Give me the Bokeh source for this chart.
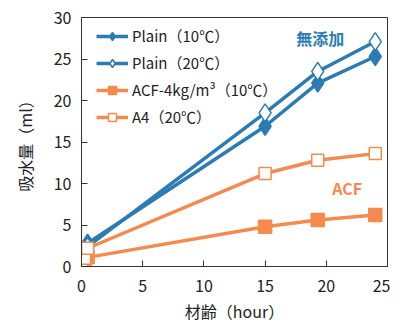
from bokeh.plotting import figure
from bokeh.models import Legend, LegendItem, Label, FixedTicker
from bokeh.embed import file_html
from bokeh.resources import INLINE

x_age = [0, 0.25, 0.5, 15, 19.3, 24]
plain_10 = [0.0, 1.0, 2.8, 16.9, 22.1, 25.3]
plain_20 = [0.0, 1.3, 2.4, 18.5, 23.5, 27.1]
acf_10 = [0.0, 0.5, 1.1, 4.8, 5.6, 6.2]
a4_20 = [0.0, 1.0, 2.2, 11.2, 12.8, 13.6]

labels = ["Plain（10℃）", "Plain（20℃）", "ACF-4kg/m³（10℃）", "A4（20℃）"]
x_ticks = [0, 5, 10, 15, 20, 25]
y_ticks = [0, 5, 10, 15, 20, 25, 30]

BLUE = "#2B7BB5"
ORANGE = "#F58A4E"
JP = "Noto Sans CJK JP"

p = figure(width=390, height=325, x_range=(0, 25), y_range=(0, 30),
           output_backend="svg", toolbar_location=None,
           min_border_left=81, min_border_right=3, min_border_top=17, min_border_bottom=50)
p.grid.visible = False
p.outline_line_color = "#333333"
p.outline_line_width = 1

for ax in (p.xaxis[0], p.yaxis[0]):
    ax.major_tick_in = 6
    ax.major_tick_out = 0
    ax.minor_tick_line_color = None
    ax.axis_line_color = "#333333"
    ax.major_tick_line_color = "#333333"
    ax.major_label_text_font = JP
    ax.major_label_text_font_size = "16px"
    ax.major_label_text_color = "#222222"
    ax.axis_label_text_font = JP
    ax.axis_label_text_font_size = "16px"
    ax.axis_label_text_font_style = "normal"
    ax.axis_label_text_color = "#222222"

p.xaxis.ticker = FixedTicker(ticks=x_ticks)
p.yaxis.ticker = FixedTicker(ticks=y_ticks)
p.xaxis.axis_label = "材齢（hour）"
p.yaxis.axis_label = "吸水量（ml）"
p.xaxis.major_label_standoff = 13
p.yaxis.major_label_standoff = 10
p.xaxis.axis_label_standoff = 4
p.yaxis.axis_label_standoff = 14

lw = 3.5
l1 = p.line(x_age, plain_10, line_color=BLUE, line_width=lw)
m1 = p.scatter(x_age, plain_10, marker="diamond", size=18, fill_color=BLUE, line_color=BLUE, line_width=1.5)
l2 = p.line(x_age, plain_20, line_color=BLUE, line_width=lw)
m2 = p.scatter(x_age, plain_20, marker="diamond", size=18, fill_color="white", line_color=BLUE, line_width=1.5)
l3 = p.line(x_age, acf_10, line_color=ORANGE, line_width=lw)
m3 = p.scatter(x_age, acf_10, marker="square", size=13, fill_color=ORANGE, line_color=ORANGE, line_width=1.5)
l4 = p.line(x_age, a4_20, line_color=ORANGE, line_width=lw)
m4 = p.scatter(x_age, a4_20, marker="square", size=12, fill_color="white", line_color=ORANGE, line_width=1.5)

legend = Legend(items=[
    LegendItem(label=labels[0], renderers=[l1, m1]),
    LegendItem(label=labels[1], renderers=[l2, m2]),
    LegendItem(label=labels[2], renderers=[l3, m3]),
    LegendItem(label=labels[3], renderers=[l4, m4]),
], location=(15, 139))
legend.border_line_color = None
legend.background_fill_alpha = 0
legend.label_text_font = JP
legend.label_text_font_size = "15px"
legend.label_text_color = "#222222"
legend.glyph_width = 32
legend.glyph_height = 20
legend.spacing = 6
legend.label_standoff = 4
legend.margin = 0
legend.padding = 8
p.add_layout(legend)

p.add_layout(Label(x=19.5, y=27.5, text="無添加", text_font=JP, text_font_size="16px",
                   text_font_style="bold", text_color=BLUE, text_align="center", text_baseline="middle"))
p.add_layout(Label(x=21.7, y=9.5, text="ACF", text_font=JP, text_font_size="16px",
                   text_font_style="bold", text_color=ORANGE, text_align="center", text_baseline="middle"))

open("out.html", "w").write(file_html(p, INLINE))
